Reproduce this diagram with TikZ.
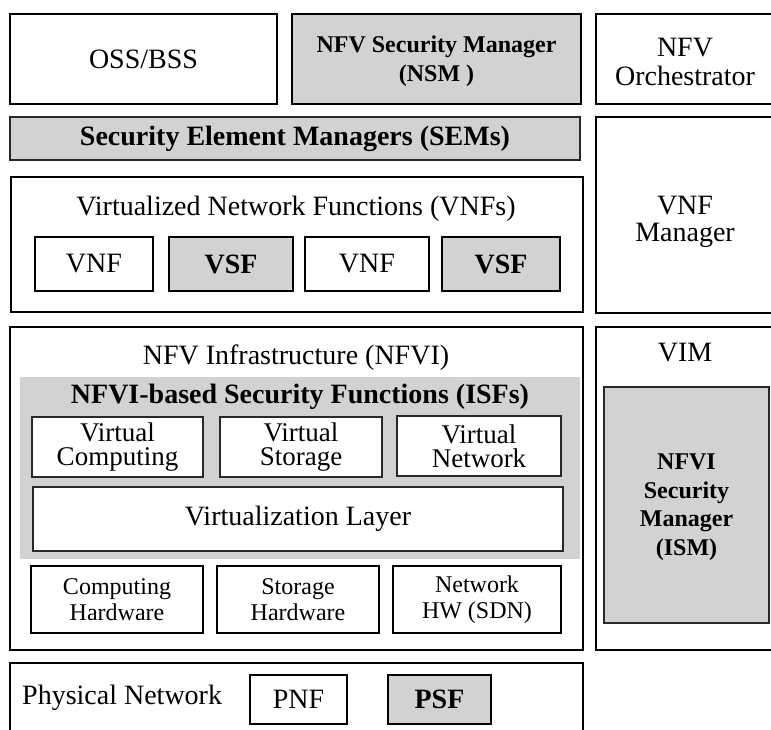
\documentclass[tikz,border=0pt]{standalone}
\usepackage{fontspec}
\setmainfont{Liberation Serif}
\definecolor{boxgray}{RGB}{210,210,210}
\definecolor{edgegray}{RGB}{40,40,40}
\newcommand{\fs}[2]{\fontsize{#1}{#2}\selectfont}
\tikzset{
  base/.style={draw=black, inner sep=0pt, outer sep=0pt, align=center, anchor=center},
  outerbox/.style={base, line width=2.7pt, fill=white},
  innerbox/.style={base, line width=2pt, fill=white},
  graybox/.style={base, line width=2.4pt, fill=boxgray},
  grayinner/.style={base, line width=2pt, fill=boxgray},
  thingray/.style={base, draw=edgegray, line width=1.6pt, fill=boxgray},
  sz/.style 2 args={minimum width=#1pt, minimum height=#2pt},
  label/.style={inner sep=0pt, outer sep=0pt, align=center, anchor=center},
  txt/.style={font=\fs{28}{30}},
  btxt/.style={font=\fs{28}{30}\bfseries},
}
\begin{document}
\begin{tikzpicture}[x=1pt,y=-1pt]
\useasboundingbox[fill=white] (0,0) rectangle (771,729);
\begin{scope}
\clip (0,0) rectangle (771,729);
% top row
\node[outerbox, sz={267}{90}, txt] (oss) at (143.5,59) {OSS/BSS};
\node[graybox, sz={289}{90}] (nsm) at (436.5,59) {};
\node[label, font=\fs{24}{29}\bfseries] (nsmtext) at (436.5,61) {NFV Security Manager\\(NSM )};
\node[outerbox, sz={178}{90}] (orch) at (685,59) {};
\node[label, font=\fs{28}{29}] (orchtext) at (685,62) {NFV\\Orchestrator};
% SEM
\node[thingray, sz={570}{43}, btxt] (sem) at (295,138.5) {Security Element Managers (SEMs)};
% VNFs
\node[outerbox, sz={572}{135}] (vnfs) at (297,244.5) {};
\node[txt] (vnfstitle) at (296,209) {Virtualized Network Functions (VNFs)};
\node[innerbox, sz={118}{54}, txt] (vnfa) at (94,264) {VNF};
\node[grayinner, sz={124}{54}, btxt] (vsfa) at (231,264) {VSF};
\node[innerbox, sz={124}{54}, txt] (vnfb) at (367,264) {VNF};
\node[grayinner, sz={118}{54}, btxt] (vsfb) at (501,264) {VSF};
% VNF manager
\node[outerbox, sz={178}{196}] (vnfm) at (685,215) {};
\node[label, font=\fs{28}{27}] (vnfmtext) at (685,222) {VNF\\Manager};
% NFVI
\node[outerbox, sz={573}{323}] (nfvi) at (296.5,488.5) {};
\node[txt] (nfvititle) at (296,358) {NFV Infrastructure (NFVI)};
\node[base, draw=none, fill=boxgray, sz={560}{182}] (isf) at (300,468) {};
\node[btxt] (isftitle) at (300,397) {NFVI-based Security Functions (ISFs)};
\node[innerbox, draw=edgegray, sz={171}{60}, font=\fs{27}{24}] (vc) at (117.5,447) {Virtual\\Computing};
\node[innerbox, draw=edgegray, sz={162}{60}, font=\fs{27}{24}] (vs) at (301,447) {Virtual\\Storage};
\node[innerbox, draw=edgegray, sz={164}{60}, font=\fs{27}{24}] (vn) at (479,446) {Virtual\\Network};
\node[innerbox, draw=edgegray, sz={530}{64}, txt] (vl) at (298,519) {Virtualization Layer};
\node[innerbox, sz={172}{67}, font=\fs{24}{26}] (ch) at (117,599.5) {Computing\\Hardware};
\node[innerbox, sz={162}{67}, font=\fs{24}{26}] (sh) at (298,599.5) {Storage\\Hardware};
\node[innerbox, sz={168}{67}, font=\fs{24}{26}] (nh) at (477,599.5) {Network\\HW (SDN)};
% VIM
\node[outerbox, sz={178}{323}] (vim) at (685,488.5) {};
\node[label, txt] (vimtitle) at (685,353) {VIM};
\node[thingray, sz={165}{236}] (ism) at (686.5,505) {};
\node[label, font=\fs{24}{28.5}\bfseries] (ismtext) at (686.5,507) {NFVI\\Security\\Manager\\(ISM)};
% Physical network
\node[outerbox, sz={573}{74}] (phy) at (296.5,700) {};
\node[txt, anchor=west, inner sep=0pt] (phytitle) at (22,698) {Physical Network};
\node[innerbox, sz={97}{49}, txt] (pnf) at (298.5,699.5) {PNF};
\node[grayinner, sz={103}{49}, btxt] (psf) at (439.5,699.5) {PSF};
\end{scope}
\end{tikzpicture}
\end{document}
